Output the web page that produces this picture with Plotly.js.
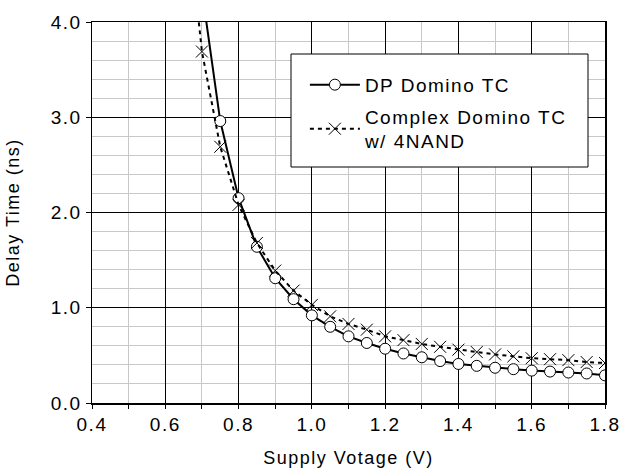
<!DOCTYPE html>
<html>
<head>
<meta charset="utf-8">
<script src="https://cdn.plot.ly/plotly-3.0.1.min.js"></script>
<style>
html,body{margin:0;padding:0;background:#fff;}
svg text{letter-spacing:1.5px;}
</style>
</head>
<body>
<div id="chart" style="width:623px;height:470px;"></div>
<script>
// Supply voltage (V)
const vddDP = [0.70, 0.75, 0.80, 0.85, 0.90, 0.95, 1.00, 1.05, 1.10, 1.15, 1.20, 1.25, 1.30, 1.35, 1.40, 1.45, 1.50, 1.55, 1.60, 1.65, 1.70, 1.75, 1.80];
// DP Domino TC delay (ns)
const delayDP = [4.33, 2.96, 2.15, 1.64, 1.31, 1.09, 0.92, 0.80, 0.70, 0.63, 0.57, 0.52, 0.48, 0.44, 0.41, 0.39, 0.37, 0.355, 0.34, 0.33, 0.32, 0.31, 0.29];
const vddCX = [0.65, 0.70, 0.75, 0.80, 0.85, 0.90, 0.95, 1.00, 1.05, 1.10, 1.15, 1.20, 1.25, 1.30, 1.35, 1.40, 1.45, 1.50, 1.55, 1.60, 1.65, 1.70, 1.75, 1.80];
// Complex Domino TC w/4NAND delay (ns)
const delayCX = [5.5, 3.69, 2.69, 2.08, 1.68, 1.39, 1.18, 1.03, 0.91, 0.83, 0.77, 0.70, 0.66, 0.62, 0.59, 0.56, 0.535, 0.51, 0.49, 0.47, 0.46, 0.45, 0.43, 0.42];
const seriesNames = ["DP Domino TC", "Complex Domino TC<br>w/ 4NAND"];
const xTicks = [0.4, 0.6, 0.8, 1.0, 1.2, 1.4, 1.6, 1.8];
const yTicks = [0.0, 1.0, 2.0, 3.0, 4.0];

const fontFam = "'Liberation Sans', Arial, sans-serif";
const fs = 19;

const traces = [
  {
    x: vddDP, y: delayDP, name: seriesNames[0], type: 'scatter', mode: 'lines+markers',
    legendgroup: 'a',
    line: {color: '#000', width: 2},
    marker: {symbol: 'circle', size: 11, color: '#fff', line: {color: '#000', width: 1}}
  },
  {
    x: vddCX, y: delayCX, name: seriesNames[1], type: 'scatter', mode: 'lines+markers',
    legendgroup: 'b',
    line: {color: '#000', width: 2, dash: '4px,4px'},
    marker: {symbol: 'x-thin-open', size: 12, color: '#000', line: {color: '#000', width: 1}}
  }
];

const layout = {
  width: 623, height: 470,
  margin: {l: 92, r: 18, t: 22, b: 67},
  paper_bgcolor: '#fff', plot_bgcolor: '#fff',
  font: {family: fontFam, size: fs, color: '#000'},
  showlegend: true,
  legend: {
    x: 0.415, y: 0.885, xanchor: 'left', yanchor: 'top',
    bgcolor: 'rgba(0,0,0,0)', borderwidth: 0,
    font: {family: fontFam, size: fs, color: '#000'},
    tracegroupgap: 4, itemwidth: 50
  },
  shapes: [
    {type: 'rect', xref: 'paper', yref: 'paper', layer: 'above',
     x0: (291 - 92) / 513, x1: (588 - 92) / 513, y0: (403 - 167) / 381, y1: (403 - 54) / 381,
     fillcolor: '#fff', line: {color: '#000', width: 1}}
  ],
  xaxis: {
    range: [0.4, 1.8], tickvals: xTicks, ticktext: xTicks.map(v => v.toFixed(1)),
    showgrid: true, gridcolor: '#000', gridwidth: 1,
    minor: {dtick: 0.1, tick0: 0.4, showgrid: true, gridcolor: '#c8c8c8', gridwidth: 1, ticks: 'outside', ticklen: 4, tickcolor: '#000'},
    showline: true, linecolor: '#000', linewidth: 1.5, mirror: true,
    ticks: 'outside', ticklen: 4, tickcolor: '#000',
    zeroline: false,
    tickfont: {family: fontFam, size: fs, color: '#000'},
    title: {text: 'Supply Votage (V)', font: {family: fontFam, size: fs - 1, color: '#000'}, standoff: 17}
  },
  yaxis: {
    range: [0, 4], tickvals: yTicks, ticktext: yTicks.map(v => v.toFixed(1)),
    showgrid: true, gridcolor: '#000', gridwidth: 1,
    minor: {dtick: 0.2, tick0: 0, showgrid: true, gridcolor: '#c8c8c8', gridwidth: 1},
    showline: true, linecolor: '#000', linewidth: 1.5, mirror: true,
    ticks: 'outside', ticklen: 5, tickcolor: '#000',
    zeroline: false,
    tickfont: {family: fontFam, size: fs, color: '#000'},
    title: {text: 'Delay Time (ns)', font: {family: fontFam, size: fs - 1, color: '#000'}, standoff: 26}
  }
};

Plotly.newPlot('chart', traces, layout, {displayModeBar: false, staticPlot: true});
</script>
</body>
</html>
